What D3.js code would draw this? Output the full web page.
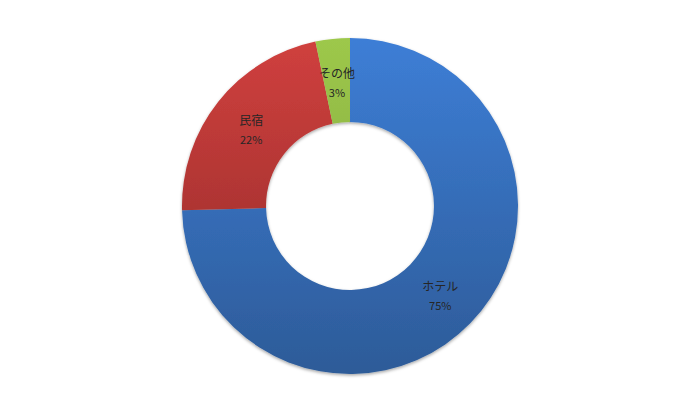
<!DOCTYPE html>
<html><head><meta charset="utf-8">
<script src="https://cdn.jsdelivr.net/npm/d3@7"></script>
<style>body{margin:0;background:#fff;}svg{display:block;}</style>
</head><body>
<svg id="c" width="700" height="413"></svg>
<script>
const categories = ["ホテル", "民宿", "その他"];
const values = [74.6, 22.1, 3.3];
const percentLabels = ["75%", "22%", "3%"];
const topColors = ["#3D7ED6", "#D0403E", "#9DC84B"];
const bottomColors = ["#2D5B98", "#8E2A28", "#7A9C38"];

const cx = 350, cy = 206, R = 168, r = 84;
const svg = d3.select("#c");
const defs = svg.append("defs");
categories.forEach((c, i) => {
  const g = defs.append("linearGradient").attr("id", "g" + i)
    .attr("gradientUnits", "userSpaceOnUse")
    .attr("x1", 0).attr("y1", -R).attr("x2", 0).attr("y2", R);
  g.append("stop").attr("offset", "0%").attr("stop-color", topColors[i]);
  g.append("stop").attr("offset", "100%").attr("stop-color", bottomColors[i]);
});
const f = defs.append("filter").attr("id", "sh").attr("x", "-10%").attr("y", "-10%").attr("width", "120%").attr("height", "120%");
f.append("feDropShadow").attr("dx", 0).attr("dy", 1.5).attr("stdDeviation", 1.5).attr("flood-color", "#000").attr("flood-opacity", 0.35);

const pie = d3.pie().sort(null).value(d => d)(values);
const arc = d3.arc().innerRadius(r).outerRadius(R);
const labelArc = d3.arc().innerRadius(126).outerRadius(126);
const g = svg.append("g").attr("transform", `translate(${cx},${cy})`);
g.append("g").attr("filter", "url(#sh)").selectAll("path").data(pie).join("path")
  .attr("d", arc).attr("fill", (d, i) => `url(#g${i})`);

const lab = g.selectAll("g.lab").data(pie).join("g").attr("class", "lab")
  .attr("transform", d => { const p = labelArc.centroid(d); return `translate(${p[0]},${p[1]})`; });
lab.append("text").attr("text-anchor", "middle").attr("y", -3)
  .style("font-family", "'Noto Sans CJK JP', sans-serif").style("font-size", "12px").attr("fill", "#262626")
  .text((d, i) => categories[i]);
lab.append("text").attr("text-anchor", "middle").attr("y", 16)
  .style("font-family", "'Noto Sans CJK JP', sans-serif").style("font-size", "11px").attr("fill", "#262626")
  .text((d, i) => percentLabels[i]);
</script>
</body></html>
